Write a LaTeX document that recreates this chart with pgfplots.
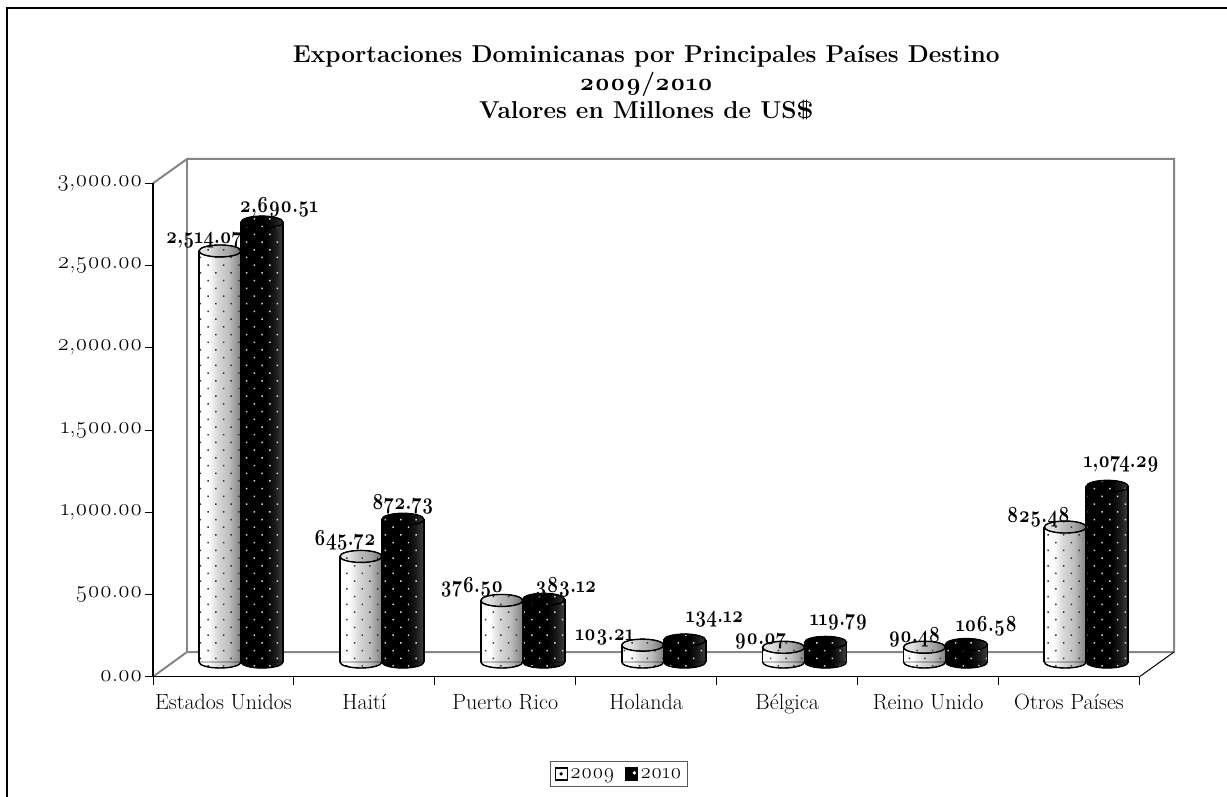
\documentclass[border=0pt]{standalone}
\usepackage{fontspec}
\setmainfont{Latin Modern Roman}[Numbers=OldStyle]
\usepackage{pgfplots}
\pgfplotsset{compat=1.18}
\usetikzlibrary{patterns.meta}

\definecolor{wallgray}{HTML}{868686}
\pgfdeclarehorizontalshading{cylA}{100bp}{color(0bp)=(white); color(36bp)=(white); color(47bp)=(black!15); color(60bp)=(black!25); color(75bp)=(black!50); color(100bp)=(black!50)}
\pgfdeclarehorizontalshading{cylB}{100bp}{color(0bp)=(black); color(54bp)=(black); color(65bp)=(black!90); color(75bp)=(black!75); color(100bp)=(black!75)}
\tikzset{
  dotsA/.style={pattern={Dots[radius=1.05pt,distance=10.9pt,angle=45]},pattern color=black!80},
  dotsB/.style={pattern={Dots[radius=1.05pt,distance=10.9pt,angle=45]},pattern color=white!85!black},
}

% cylinder ends, the rest of the body is a bar
\newcommand{\declareends}[1]{%
  \pgfdeclareplotmark{top#1}{%
    \path[shading=cyl#1] (0,0) ellipse[x radius=21pt,y radius=6pt];
    \path[fill opacity=0.12,fill=black] (0,0) ellipse[x radius=21pt,y radius=6pt];
    \path[dots#1] (0,0) ellipse[x radius=21pt,y radius=6pt];
    \draw[black,line width=1.4pt] (0,0) ellipse[x radius=21pt,y radius=6pt];}%
  \pgfdeclareplotmark{bot#1}{%
    \path[shading=cyl#1] (-21pt,0) arc[start angle=180,end angle=360,x radius=21pt,y radius=6pt] -- cycle;
    \path[dots#1] (-21pt,0) arc[start angle=180,end angle=360,x radius=21pt,y radius=6pt] -- cycle;
    \draw[black,line width=1.4pt] (-21pt,0) arc[start angle=180,end angle=360,x radius=21pt,y radius=6pt];}%
}
\declareends{A}
\declareends{B}

% \cyl{series}{shift}{x}{value}{label}{dx}{dy}
\newcommand{\cyl}[7]{%
  \addplot[ybar,bar width=42pt,bar shift=#2pt,draw=none,shading=cyl#1,forget plot]
    coordinates {(#3,#4)};
  \addplot[ybar,bar width=42pt,bar shift=#2pt,draw=none,dots#1,forget plot]
    coordinates {(#3,#4)};
  \addplot[ybar,bar width=1.8pt,bar shift=#2pt-21pt,fill=black,draw=none,forget plot] coordinates {(#3,#4)};
  \addplot[ybar,bar width=1.8pt,bar shift=#2pt+21pt,fill=black,draw=none,forget plot] coordinates {(#3,#4)};
  \addplot[only marks,mark=bot#1,xshift=#2pt,forget plot] coordinates {(#3,0)};
  \addplot[only marks,mark=top#1,xshift=#2pt,forget plot,
    nodes near coords={\scalebox{1}[1.25]{\bfseries #5}},
    every node near coord/.style={anchor=center,inner sep=0pt,text=black,
      font=\fontsize{18.5}{20}\selectfont,xshift=#6pt,yshift=#7pt}]
    coordinates {(#3,#4)};
}

\begin{document}
\begin{tikzpicture}[x=1pt,y=-1pt]
\useasboundingbox (0,0) rectangle (1227,797);
\path[fill=white] (0,0) rectangle (1227,797);

% outer frame, only left and top are in the picture
\draw[black,line width=2.3pt] (7,797) -- (7,8) -- (1227,8);

% back wall and side edges
\draw[wallgray,line width=2pt] (153,183.3) -- (187,159) -- (1174,159) -- (1174,652) -- (187,652) -- (153,676.7);
\draw[wallgray,line width=2pt] (187,159) -- (187,652);
\draw[black,line width=1pt] (1139.5,676.7) -- (1174,652);

% front axes, labels and legend
\begin{axis}[
  at={(153pt,-676.7pt)},anchor=south west,
  scale only axis,width=986.5pt,height=493.4pt,
  xmin=-0.5,xmax=6.5,ymin=0,ymax=3000,
  axis x line*=bottom,axis y line*=left,
  axis line style={black,line width=1.3pt,-},
  tick style={black,line width=1pt},
  tick align=outside,
  clip=false,
  xtick={0,1,2,3,4,5,6},
  xticklabels={Estados Unidos,Haití,Puerto Rico,Holanda,Bélgica,Reino Unido,Otros Países},
  minor xtick={-0.5,0.5,1.5,2.5,3.5,4.5,5.5,6.5},
  major x tick style={draw=none},
  minor tick length=8pt,
  major tick length=8pt,
  ytick={0,500,1000,1500,2000,2500,3000},
  yticklabels={{0.00},{500.00},{1,000.00},{1,500.00},{2,000.00},{2,500.00},{3,000.00}},
  tick label style={text=black},
  xticklabel style={yshift=-6pt,font=\fontsize{22}{24}\selectfont},
  yticklabel style={xshift=1pt,font=\fontsize{23.5}{24}\selectfont},
  title={\bfseries Exportaciones Dominicanas por Principales Países Destino\\ \bfseries 2009/2010\\ \bfseries Valores en Millones de US\$},
  title style={align=center,at={(0.5,1)},anchor=south,yshift=54pt,font=\fontsize{24.4}{28}\selectfont},
  legend columns=2,
  legend style={at={(0.4724,-0.197)},anchor=center,draw=black!65,line width=1.2pt,
    font=\fontsize{21.5}{24}\selectfont,inner xsep=4pt,inner ysep=5pt,
    /tikz/every even column/.append style={column sep=8pt}},
]
\addlegendimage{legend image code/.code={
  \path[draw=black,line width=1.3pt,fill=white] (0pt,-6pt) rectangle (12pt,6pt);
  \fill[black] (6pt,0pt) circle[radius=1pt];}}
\addlegendentry{2009}
\addlegendimage{legend image code/.code={
  \path[draw=black,line width=1.3pt,fill=black] (0pt,-6pt) rectangle (12pt,6pt);
  \fill[white] (9pt,1pt) circle[radius=1pt];}}
\addlegendentry{2010}
\end{axis}

% the cylinders stand behind the front plane, so their own scale
\begin{axis}[
  at={(241pt,-662pt)},anchor=south west,
  scale only axis,width=845.3pt,height=490.5pt,
  xmin=0,xmax=6,ymin=0,ymax=3000,
  hide axis,clip=false,
]
\cyl{A}{-21}{0}{2514.07}{2,514.07}{-16}{11}
\cyl{B}{21}{0}{2690.51}{2,690.51}{17}{15}
\cyl{A}{-21}{1}{645.72}{645.72}{-16}{16}
\cyl{B}{21}{1}{872.73}{872.73}{0}{15}
\cyl{A}{-21}{2}{376.50}{376.50}{-30}{13}
\cyl{B}{21}{2}{383.12}{383.12}{22}{12}
\cyl{A}{-21}{3}{103.21}{103.21}{-38}{8}
\cyl{B}{21}{3}{134.12}{134.12}{30}{21}
\cyl{A}{-21}{4}{90.07}{90.07}{-23}{6}
\cyl{B}{21}{4}{119.79}{119.79}{13}{20}
\cyl{A}{-21}{5}{90.48}{90.48}{-10}{10}
\cyl{B}{21}{5}{106.58}{106.58}{20}{18}
\cyl{A}{-21}{6}{825.48}{825.48}{-27}{10}
\cyl{B}{21}{6}{1074.29}{1,074.29}{14}{22}
\end{axis}
\end{tikzpicture}
\end{document}
